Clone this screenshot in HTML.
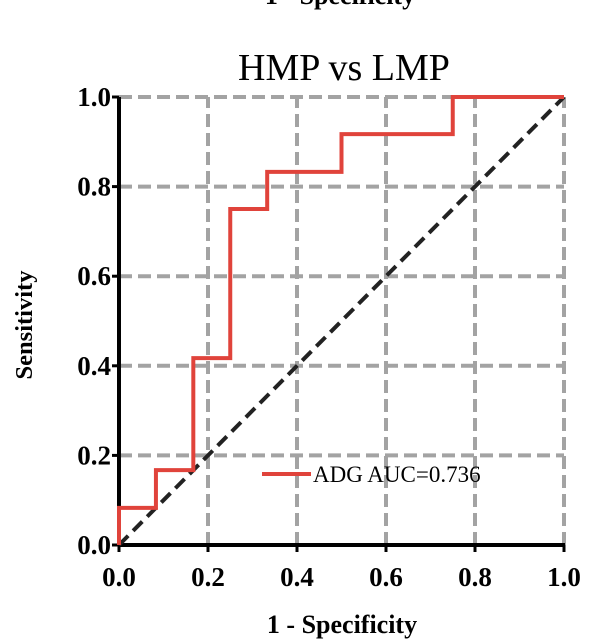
<!DOCTYPE html>
<html><head><meta charset="utf-8"><style>
body{margin:0;background:#fff;}
svg{display:block;font-family:"Liberation Serif",serif;}
</style></head><body>
<svg width="612" height="643">
<text x="340" y="4" text-anchor="middle" font-size="26" font-weight="bold">1 - Specificity</text>
<text x="344" y="80" text-anchor="middle" font-size="38">HMP vs LMP</text>
<g id="grid"></g>
<g id="axes"></g>
<g id="series"></g>
<text transform="translate(32,325) rotate(-90)" text-anchor="middle" font-size="24.5" font-weight="bold">Sensitivity</text>
<text x="342" y="633" text-anchor="middle" font-size="26" font-weight="bold">1 - Specificity</text>
<g>
<line x1="262" y1="474" x2="311" y2="474" stroke="#e0433b" stroke-width="4"/>
<text x="313" y="482" font-size="23">ADG AUC=0.736</text>
</g>
</svg>
<script>
const ticks=[0,0.2,0.4,0.6,0.8,1.0];
const tickLabels=["0.0","0.2","0.4","0.6","0.8","1.0"];
const fprValues=[0,0,0.083,0.083,0.167,0.167,0.25,0.25,0.333,0.333,0.5,0.5,0.75,0.75,1];
const tprValues=[0,0.083,0.083,0.167,0.167,0.417,0.417,0.75,0.75,0.833,0.833,0.917,0.917,1,1];
const NS="http://www.w3.org/2000/svg";
const X=v=>119+v*445, Y=v=>545-v*448;
function mk(p,t,a){const e=document.createElementNS(NS,t);for(const k in a)e.setAttribute(k,a[k]);p.appendChild(e);return e;}
const g=document.getElementById('grid'),ax=document.getElementById('axes'),s=document.getElementById('series');
ticks.forEach((t,i)=>{
 if(t>0){
  const h=mk(g,'line',{x1:X(0),x2:X(1),y1:Y(t),y2:Y(t),stroke:'#a3a3a3','stroke-width':4,'stroke-dasharray':'13 6'});
  
  
  const v=mk(g,'line',{x1:X(t),x2:X(t),y1:Y(0),y2:Y(1),stroke:'#a3a3a3','stroke-width':4,'stroke-dasharray':'13 6'});
  
  
 }
 const tx=mk(ax,'text',{x:X(t),y:586,'text-anchor':'middle','font-size':27,'font-weight':'bold'});tx.textContent=tickLabels[i];
 
 
 const ty=mk(ax,'text',{x:111,y:Y(t)+9,'text-anchor':'end','font-size':27,'font-weight':'bold'});ty.textContent=tickLabels[i];
 
 
 mk(ax,'line',{x1:X(t),x2:X(t),y1:Y(0),y2:Y(0)+7,stroke:'#000','stroke-width':3});
 mk(ax,'line',{x1:X(0)-7,x2:X(0),y1:Y(t),y2:Y(t),stroke:'#000','stroke-width':3});
});
const xa=mk(ax,'line',{x1:X(0)-1,x2:X(1)+1,y1:Y(0),y2:Y(0),stroke:'#000','stroke-width':4});


const ya=mk(ax,'line',{x1:X(0),x2:X(0),y1:Y(0)+1,y2:Y(1),stroke:'#000','stroke-width':4});


const d=mk(s,'line',{x1:X(0),y1:Y(0),x2:X(1),y2:Y(1),stroke:'#222','stroke-width':4,'stroke-dasharray':'13 7'});


const roc=mk(s,'polyline',{points:fprValues.map((f,i)=>X(f)+','+Y(tprValues[i])).join(' '),fill:'none',stroke:'#e0433b','stroke-width':4});


</script>
</body></html>
